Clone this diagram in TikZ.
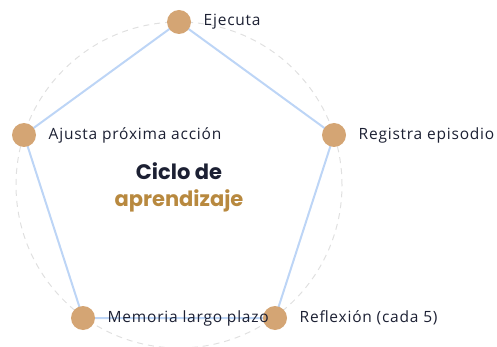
\documentclass[tikz,border=0pt]{standalone}
\usepackage{fontspec}
\setmainfont{Open Sans}[LetterSpace=5]
\newfontfamily\titlefont{Poppins}
\usepackage{tikz}

\definecolor{dotcol}{HTML}{D4A574}
\definecolor{linkcol}{HTML}{BDD5F6}
\definecolor{ringcol}{HTML}{E0E0E0}
\definecolor{txtcol}{HTML}{1C2033}
\definecolor{goldcol}{HTML}{B8893F}

\tikzset{
  dot/.style={circle, fill=dotcol, minimum size=24pt, inner sep=0pt},
  steplabel/.style={text=txtcol, font=\fontsize{15.5}{18}\selectfont, label distance=9pt},
  link/.style={linkcol, line width=2pt}
}

\begin{document}
\begin{tikzpicture}[x=1pt,y=-1pt]
		\useasboundingbox (0,0) rectangle (497,347);
		%Ring hinter dem Zyklus
		\draw[ringcol, dashed, dash pattern=on 6pt off 5pt, line width=1pt] (179,185) circle (163pt);
		
		%Koordinaten der Schritte
		\coordinate (E) at (179,22);
		\coordinate (R) at (334,135);
		\coordinate (F) at (275,318);
		\coordinate (M) at (83,318);
		\coordinate (A) at (24,135);
		
		\draw[link] (E) -- (R) -- (F) -- (M) -- (A) -- (E);
		
		\node[dot, label={[steplabel]right:Ejecuta}] (ejecuta) at (E) {};
		\node[dot, label={[steplabel]right:Registra episodio}] (registra) at (R) {};
		\node[dot, label={[steplabel]right:Reflexión (cada 5)}] (reflexion) at (F) {};
		\node[dot, label={[steplabel]right:Memoria largo plazo}] (memoria) at (M) {};
		\node[dot, label={[steplabel]right:Ajusta próxima acción}] (ajusta) at (A) {};
		
		\node[text=txtcol, font=\titlefont\bfseries\fontsize{21}{24}\selectfont] (ciclo) at (179,171) {Ciclo de};
		\node[text=goldcol, font=\titlefont\bfseries\fontsize{21}{24}\selectfont] (apren) at (179,201) {aprendizaje};
		\end{tikzpicture}
\end{document}
